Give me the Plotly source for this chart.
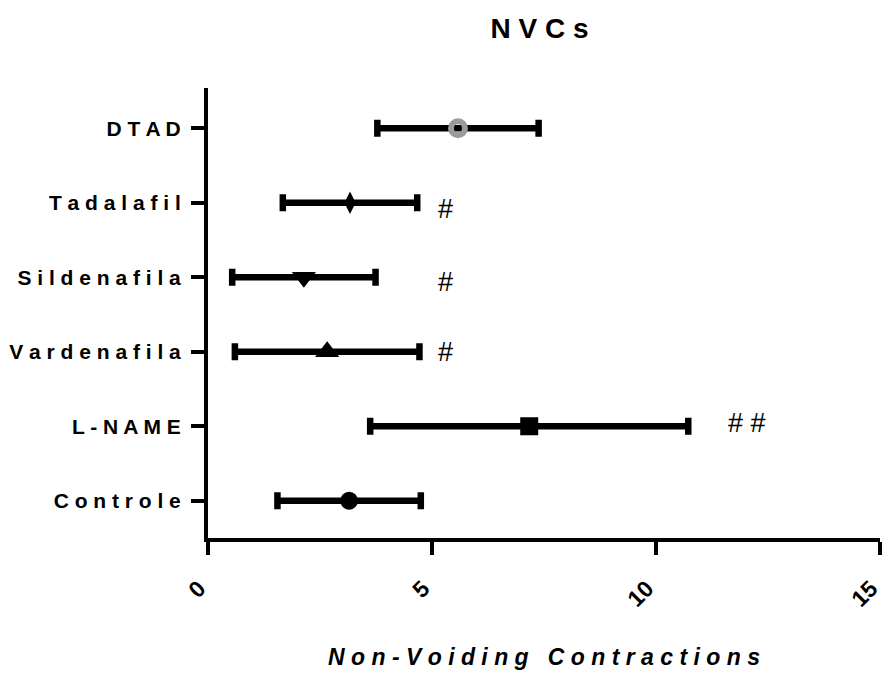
import plotly.graph_objects as go

# Groups listed bottom-to-top along the category axis
groups = ["Controle", "L-NAME", "Vardenafila", "Sildenafila", "Tadalafil", "DTAD"]
means = [3.15, 7.17, 2.66, 2.14, 3.17, 5.58]
errors = [1.60, 3.55, 2.06, 1.60, 1.50, 1.80]
marks = ["", "# #", "#", "#", "#", ""]

x_ticks = [0, 5, 10, 15]

symbols = ["circle", "square", "triangle-up", "triangle-down", "diamond-tall", "circle-open"]
sizes = [18, 18, 21, 21, 16, 14]
colors = ["black", "black", "black", "black", "black", "#9a9a9a"]
line_widths = [0, 0, 0, 0, 0, 6]

FONT = "Liberation Sans, Arial, sans-serif"


def spaced(s, sep=" "):
    return sep.join(list(s))


fig = go.Figure()
for i, g in enumerate(groups):
    fig.add_trace(go.Scatter(
        x=[means[i]], y=[i], mode="markers", name=g,
        marker=dict(symbol=symbols[i], size=sizes[i], color=colors[i],
                    line=dict(width=line_widths[i], color=colors[i])),
        error_x=dict(type="data", array=[errors[i]], symmetric=True,
                     color="black", thickness=6.5, width=8.5),
        showlegend=False,
    ))

# significance markers beside the bars
mark_x = {1: 12.03, 2: 5.31, 3: 5.31, 4: 5.31}
mark_shift = {1: 3, 2: 0, 3: -5, 4: -6}
for i, m in enumerate(marks):
    if m:
        fig.add_annotation(x=mark_x[i], y=i, text=m, showarrow=False,
                           xanchor="center", yanchor="middle", yshift=mark_shift[i],
                           font=dict(family=FONT, size=27, color="black"))

fig.update_layout(
    width=883, height=675,
    margin=dict(l=208, r=3, t=88, b=137),
    plot_bgcolor="white", paper_bgcolor="white",
    title=dict(text="<b>" + spaced("NVCs") + "</b>", x=0.611, xref="container",
               y=1 - 28 / 675, yref="container", xanchor="center", yanchor="middle",
               font=dict(family=FONT, size=28, color="black")),
    xaxis=dict(
        range=[0, 15], tickvals=x_ticks, ticktext=[str(v) for v in x_ticks],
        tickangle=-45, ticks="outside", ticklen=13, tickwidth=4, tickcolor="black",
        showline=True, linewidth=4, linecolor="black", showgrid=False, zeroline=False,
        tickfont=dict(family=FONT, size=23, color="black", weight="bold"),
        ticklabelstandoff=11, ticklabelshift=-9, ticklabeloverflow="allow", automargin=False,
        title=dict(text="<b><i>" + "   ".join(spaced(w) for w in "Non-Voiding Contractions".split(" ")) + "</i></b>",
                   font=dict(family=FONT, size=23, color="black"), standoff=39),
    ),
    yaxis=dict(
        range=[-0.5, 5.54], tickvals=list(range(len(groups))),
        ticktext=["<b>" + spaced(g) + "</b>" for g in groups],
        ticks="outside", ticklen=13, tickwidth=3.5, tickcolor="black",
        showline=True, linewidth=4, linecolor="black", showgrid=False, zeroline=False,
        tickfont=dict(family=FONT, size=21, color="black"),
        ticklabelstandoff=6, automargin=False,
    ),
)

fig.write_html("out.html")
